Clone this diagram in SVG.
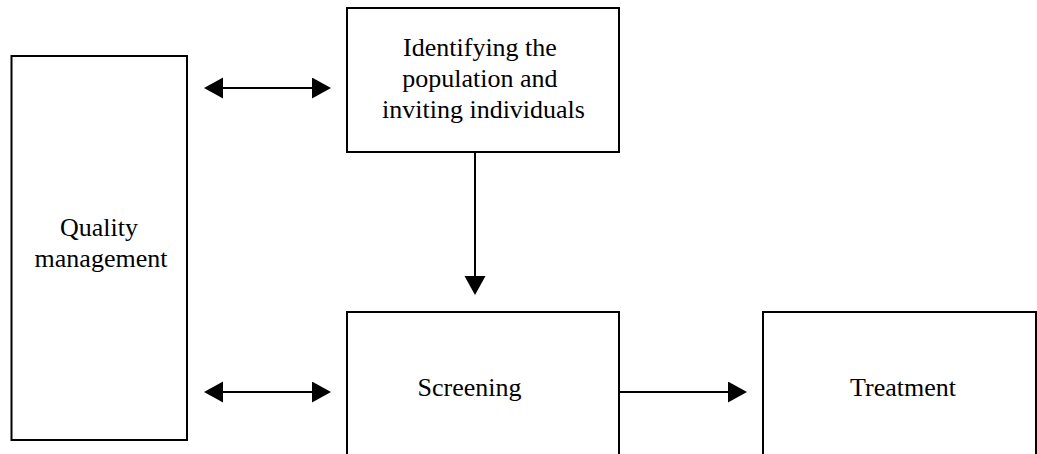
<svg xmlns="http://www.w3.org/2000/svg" width="1037" height="454" viewBox="0 0 1037 454">
<style>
.box{fill:#fff;stroke:#000;stroke-width:2}
.lbl{font-family:"Liberation Serif","Times New Roman",serif;font-size:26px;fill:#000;text-anchor:middle}
.conn{stroke:#000;stroke-width:2;fill:none}
</style>
<defs>
<marker id="ah" markerUnits="userSpaceOnUse" markerWidth="20" markerHeight="22" refX="0" refY="10.5" orient="auto-start-reverse" viewBox="0 0 20 22">
<path d="M0,0 L19,10.5 L0,21 z" fill="#000"/>
</marker>
</defs>
<rect width="1037" height="454" fill="#fff"/>
<g id="quality">
<rect class="box" x="11.5" y="56" width="175.5" height="384"/>
<text class="lbl" x="99" y="236">Quality</text>
<text class="lbl" x="101" y="267">management</text>
</g>
<g id="identify">
<rect class="box" x="347" y="8" width="272" height="144"/>
<text class="lbl" x="480" y="56">Identifying the</text>
<text class="lbl" x="480" y="87">population and</text>
<text class="lbl" x="483.5" y="118">inviting individuals</text>
</g>
<g id="screening">
<rect class="box" x="347" y="312" width="272" height="160"/>
<text class="lbl" x="469.5" y="396">Screening</text>
</g>
<g id="treatment">
<rect class="box" x="763" y="312" width="273" height="160"/>
<text class="lbl" x="903" y="396">Treatment</text>
</g>
<g id="connectors">
<line class="conn" x1="223" y1="88" x2="312" y2="88" marker-start="url(#ah)" marker-end="url(#ah)"/>
<line class="conn" x1="223" y1="392" x2="312" y2="392" marker-start="url(#ah)" marker-end="url(#ah)"/>
<line class="conn" x1="475" y1="152" x2="475" y2="276" marker-end="url(#ah)"/>
<line class="conn" x1="619" y1="392" x2="728" y2="392" marker-end="url(#ah)"/>
</g>
</svg>
